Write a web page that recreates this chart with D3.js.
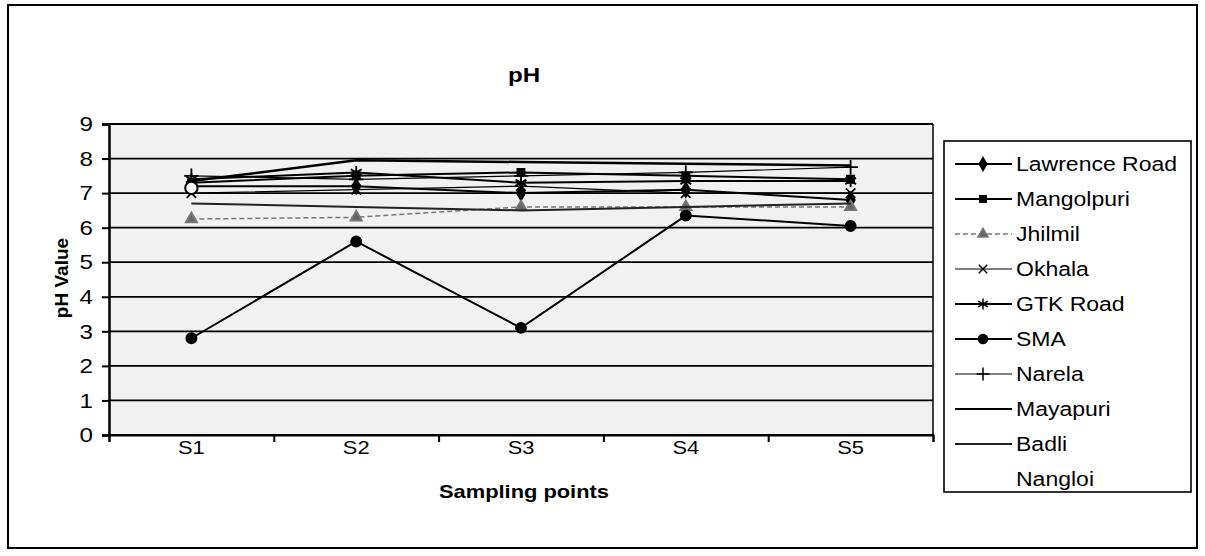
<!DOCTYPE html>
<html>
<head>
<meta charset="utf-8">
<script src="https://cdn.jsdelivr.net/npm/d3@7"></script>
<style>
body{margin:0;background:#fff;}
text{font-family:"Liberation Sans",Arial,sans-serif;fill:#000;}
</style>
</head>
<body>
<svg width="1205" height="556"></svg>
<script>
// categories and values
var points = ["S1","S2","S3","S4","S5"]
var yTicks = [0,1,2,3,4,5,6,7,8,9]
var names = ["Lawrence Road","Mangolpuri","Jhilmil","Okhala","GTK Road","SMA","Narela","Mayapuri","Badli","Nangloi"]
var lawrence = [7.2,7.2,7.0,7.1,6.8]
var mangolpuri = [7.3,7.5,7.6,7.5,7.4]
var jhilmil = [6.25,6.3,6.6,6.6,6.6]
var okhala = [7.0,7.1,7.2,7.0,7.0]
var gtk = [7.4,7.6,7.3,7.35,7.35]
var sma = [2.8,5.6,3.1,6.35,6.05]
var narela = [7.5,7.4,7.5,7.6,7.75]
var mayapuri = [7.35,7.95,7.9,7.85,7.8]
var badli = [6.7,6.6,6.5,6.6,6.7]
var nangloi = [7.15,7.0,6.8,6.9,6.5]
var seriesValues = [lawrence,mangolpuri,jhilmil,okhala,gtk,sma,narela,mayapuri,badli,nangloi]

var plot = {left:109,right:933,top:124,bottom:435}
var stretch = 1.15  // the scan is wider than it is tall

var svg = d3.select("svg")

// outer frame
svg.append("rect")
    .attr("x",8).attr("y",5)
    .attr("width",1189).attr("height",543)
    .attr("fill","none").attr("stroke","#000").attr("stroke-width",2)

svg.append("text")
    .attr("x",524).attr("y",82)
    .attr("text-anchor","middle")
    .attr("font-size",21).attr("font-weight","bold")
    .text("pH")

var xScale = d3.scaleBand()
    .domain(points)
    .range([plot.left,plot.right])

var yScale = d3.scaleLinear()
    .domain([0,9])
    .range([plot.bottom,plot.top])

// plot area background (scanned grey)
svg.append("rect")
    .attr("x",plot.left).attr("y",plot.top)
    .attr("width",plot.right-plot.left).attr("height",plot.bottom-plot.top)
    .attr("fill","#f1f1f1")

// gridlines
svg.append("g")
    .selectAll("line")
    .data(yTicks)
    .enter()
    .append("line")
    .attr("x1",plot.left).attr("x2",plot.right)
    .attr("y1",function(d){return yScale(d)})
    .attr("y2",function(d){return yScale(d)})
    .attr("stroke","#000").attr("stroke-width",1.8)

// right border of plot
svg.append("line")
    .attr("x1",plot.right).attr("x2",plot.right)
    .attr("y1",plot.top).attr("y2",plot.bottom)
    .attr("stroke","#000").attr("stroke-width",1.5)

var yAxis = d3.axisLeft(yScale).tickValues(yTicks).tickSize(7).tickPadding(9)
var gy = svg.append("g")
    .attr("transform","translate("+plot.left+",0)")
    .call(yAxis)
gy.select(".domain").attr("stroke-width",2.5)
gy.selectAll("line").attr("stroke-width",2)
gy.selectAll("text").attr("font-size",21).attr("font-family","Liberation Sans, Arial, sans-serif")

// x boundary ticks
var edgeScale = d3.scaleLinear().domain([0,points.length]).range([plot.left,plot.right])
var gxt = svg.append("g")
    .attr("transform","translate(0,"+plot.bottom+")")
    .call(d3.axisBottom(edgeScale).ticks(points.length).tickFormat("").tickSize(7))
gxt.select(".domain").attr("stroke-width",2)
gxt.selectAll("line").attr("stroke-width",2)

var gx = svg.append("g")
    .attr("transform","translate(0,"+plot.bottom+")")
    .call(d3.axisBottom(xScale).tickSize(0).tickPadding(6))
gx.select(".domain").remove()
gx.selectAll("text").attr("font-size",19).attr("font-family","Liberation Sans, Arial, sans-serif")

svg.append("text")
    .attr("x",524).attr("y",498)
    .attr("text-anchor","middle")
    .attr("font-size",19).attr("font-weight","bold")
    .text("Sampling points")

svg.append("text")
    .attr("class","vertical")
    .attr("transform","translate(68,278) rotate(-90)")
    .attr("text-anchor","middle")
    .attr("font-size",19).attr("font-weight","bold")
    .text("pH Value")

// styles per series
var styles = [
    {symbol:d3.symbolDiamond,size:60,fill:"#000",stroke:"#000",dash:null,width:2},
    {symbol:d3.symbolSquare,size:50,fill:"#000",stroke:"#000",dash:null,width:2},
    {symbol:d3.symbolTriangle,size:55,fill:"#666",stroke:"#777",dash:"5,3",width:1.5},
    {symbol:d3.symbolTimes,size:60,fill:"none",stroke:"#000",dash:null,width:1.2},
    {symbol:d3.symbolAsterisk,size:110,fill:"none",stroke:"#000",dash:null,width:2},
    {symbol:d3.symbolCircle,size:80,fill:"#000",stroke:"#000",dash:null,width:2},
    {symbol:d3.symbolPlus,size:70,fill:"none",stroke:"#000",dash:null,width:1.2},
    {symbol:null,size:0,fill:"none",stroke:"#000",dash:null,width:2.5},
    {symbol:null,size:0,fill:"none",stroke:"#222",dash:null,width:2},
    {symbol:d3.symbolCircle,size:120,fill:"#fff",stroke:"#000",dash:null,width:0}
]

var line = d3.line()
    .x(function(d,i){return xScale(points[i])+xScale.bandwidth()/2})
    .y(function(d){return yScale(d)})

var series = svg.append("g")
    .selectAll("g")
    .data(seriesValues)
    .enter()
    .append("g")

series.append("path")
    .attr("d",function(d){return line(d)})
    .attr("fill","none")
    .attr("stroke",function(d,i){return styles[i].stroke})
    .attr("stroke-width",function(d,i){return styles[i].width})
    .attr("stroke-dasharray",function(d,i){return styles[i].dash})
    .attr("opacity",function(d,i){return styles[i].width==0?0:1})

series.each(function(vals,i)
{
    var st = styles[i]
    if(!st.symbol) return
    d3.select(this).selectAll(".mark")
        .data(vals)
        .enter()
        .append("path")
        .attr("class","mark")
        .attr("transform",function(d,j){return "translate("+(xScale(points[j])+xScale.bandwidth()/2)+","+yScale(d)+")"})
        .attr("d",d3.symbol().type(st.symbol).size(st.size))
        .attr("fill",st.fill)
        .attr("stroke",st.stroke)
        .attr("stroke-width",i==9?2:1.8)
        .attr("display",function(d,j){return i==9&&j>0?"none":null})
})

// legend
var legend = svg.append("g")
svg.append("rect")
    .attr("x",944).attr("y",141)
    .attr("width",247).attr("height",351)
    .attr("fill","none").attr("stroke","#000").attr("stroke-width",1.6)

var items = legend.selectAll("g")
    .data(names)
    .enter()
    .append("g")
    .attr("transform",function(d,i){return "translate(0,"+(164+i*35)+")"})

items.append("line")
    .attr("x1",955).attr("x2",1012)
    .attr("y1",0).attr("y2",0)
    .attr("stroke",function(d,i){return styles[i].stroke})
    .attr("stroke-width",function(d,i){return Math.min(styles[i].width,2)})
    .attr("stroke-dasharray",function(d,i){return styles[i].dash})
    .attr("opacity",function(d,i){return i==9?0:1})

items.filter(function(d,i){return styles[i].symbol && i!=9})
    .append("path")
    .attr("transform","translate(983,0)")
    .attr("d",function(d){var i=names.indexOf(d);return d3.symbol().type(styles[i].symbol).size(styles[i].size*0.8)()})
    .attr("fill",function(d){return styles[names.indexOf(d)].fill})
    .attr("stroke",function(d){return styles[names.indexOf(d)].stroke})
    .attr("stroke-width",1.5)

items.append("text")
    .attr("x",1016).attr("y",7)
    .attr("font-size",20)
    .text(function(d){return d})

// widen horizontal text to match the stretched scan
svg.selectAll("text").filter(function(){return !this.classList.contains("vertical")})
    .each(function()
    {
        var w = this.getComputedTextLength()
        if(w>0) d3.select(this).attr("textLength",w*stretch).attr("lengthAdjust","spacingAndGlyphs")
    })
</script>
</body>
</html>
